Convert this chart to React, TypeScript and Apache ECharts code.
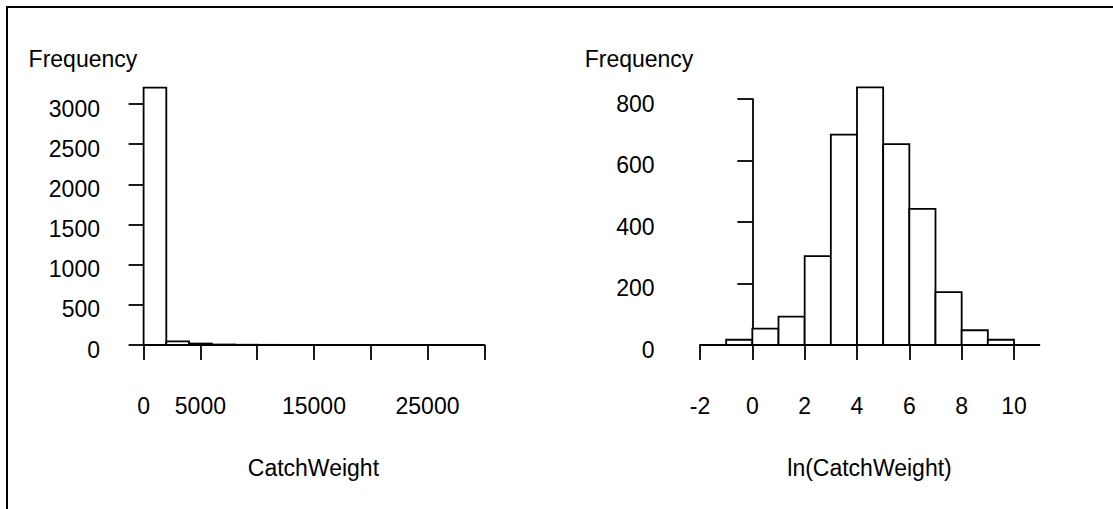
import React, { useEffect, useRef } from "react";
import * as echarts from "echarts";

// Left histogram: CatchWeight (bin breaks and counts)
const leftBreaks = [0, 2000, 4000, 6000, 8000, 10000, 12000, 14000, 16000, 18000, 20000, 22000, 24000, 26000, 28000, 30000];
const leftCounts = [3205, 45, 18, 6, 3, 2, 1, 1, 0, 1, 0, 0, 0, 0, 1];
const leftXTicks = [0, 5000, 10000, 15000, 20000, 25000, 30000];
const leftXLabels = [0, 5000, 15000, 25000];
const leftYTicks = [0, 500, 1000, 1500, 2000, 2500, 3000];

// Right histogram: ln(CatchWeight)
const rightBreaks = [-2, -1, 0, 1, 2, 3, 4, 5, 6, 7, 8, 9, 10, 11];
const rightCounts = [0, 17, 53, 92, 289, 684, 838, 653, 443, 172, 48, 17, 0];
const rightXTicks = [-2, 0, 2, 4, 6, 8, 10];
const rightYTicks = [0, 200, 400, 600, 800];

const yLabel = "Frequency";
const leftXName = "CatchWeight";
const rightXName = "ln(CatchWeight)";

const FONT = "'Liberation Sans', Arial, Helvetica, sans-serif";
const FS = 23;
const LW = 1.8;

function binData(breaks: number[], counts: number[]) {
  return counts.map((c, i) => [breaks[i], breaks[i + 1], c]);
}

const renderBar = (params: any, api: any) => {
  const x0 = api.value(0);
  const x1 = api.value(1);
  const y = api.value(2);
  const p0 = api.coord([x0, 0]);
  const p1 = api.coord([x1, y]);
  return {
    type: "rect",
    shape: { x: p0[0], y: p1[1], width: p1[0] - p0[0], height: p0[1] - p1[1] },
    style: { fill: "#fff", stroke: "#000", lineWidth: LW },
  };
};

const plain = (v: number) => String(v);
const axisLine = { show: true, lineStyle: { color: "#000", width: LW } };
const tickStyle = { show: true, length: 15, lineStyle: { color: "#000", width: LW } };
const labelStyle = { color: "#000", fontSize: FS, fontFamily: FONT, formatter: plain };

export default function App() {
  const ref = useRef<HTMLDivElement>(null);
  useEffect(() => {
    if (!ref.current) return;
    const chart = echarts.init(ref.current, undefined, { renderer: "svg" });
    const option: any = {
      animation: false,
      backgroundColor: "#fff",
      grid: [
        { left: 143.6, top: 104, width: 340.7, height: 241 },
        { left: 700, top: 99, width: 314, height: 246 },
      ],
      xAxis: [
        {
          type: "value",
          gridIndex: 0,
          min: 0,
          max: 30000,
          interval: 5000,
          offset: 11.5,
          axisLine,
          axisTick: { ...tickStyle, customValues: leftXTicks },
          axisLabel: { ...labelStyle, margin: 38, customValues: leftXLabels },
          splitLine: { show: false },
        },
        {
          type: "value",
          gridIndex: 1,
          min: -2,
          max: 10,
          interval: 2,
          offset: 11.5,
          axisLine,
          axisTick: { ...tickStyle, customValues: rightXTicks },
          axisLabel: { ...labelStyle, margin: 38, customValues: rightXTicks },
          splitLine: { show: false },
        },
      ],
      yAxis: [
        {
          type: "value",
          gridIndex: 0,
          min: 0,
          max: 3000,
          interval: 500,
          offset: 12.6,
          axisLine,
          axisTick: { ...tickStyle, customValues: leftYTicks },
          axisLabel: { ...labelStyle, margin: 31, verticalAlign: "top", lineHeight: 9, customValues: leftYTicks },
          splitLine: { show: false },
        },
        {
          type: "value",
          gridIndex: 1,
          min: 0,
          max: 800,
          interval: 200,
          offset: 15.8,
          axisLine,
          axisTick: { ...tickStyle, customValues: rightYTicks },
          axisLabel: { ...labelStyle, margin: 29.7, verticalAlign: "top", lineHeight: 9, customValues: rightYTicks },
          splitLine: { show: false },
        },
      ],
      series: [
        {
          type: "custom",
          xAxisIndex: 0,
          yAxisIndex: 0,
          clip: false,
          renderItem: renderBar,
          encode: { x: [0, 1], y: 2 },
          data: binData(leftBreaks, leftCounts),
        },
        {
          type: "custom",
          xAxisIndex: 1,
          yAxisIndex: 1,
          clip: false,
          renderItem: renderBar,
          encode: { x: [0, 1], y: 2 },
          data: binData(rightBreaks, rightCounts),
        },
      ],
      graphic: [
        {
          type: "polyline",
          shape: { points: [[7, 509], [7, 7], [1113, 7]] },
          style: { stroke: "#000", lineWidth: 2, fill: null },
        },
        {
          type: "text",
          x: 28.6,
          y: 59,
          style: { text: yLabel, fill: "#000", font: `${FS}px ${FONT}`, align: "left", verticalAlign: "middle" },
        },
        {
          type: "text",
          x: 584.7,
          y: 59,
          style: { text: yLabel, fill: "#000", font: `${FS}px ${FONT}`, align: "left", verticalAlign: "middle" },
        },
        {
          type: "text",
          x: 313.4,
          y: 468,
          style: { text: leftXName, fill: "#000", font: `${FS}px ${FONT}`, align: "center", verticalAlign: "middle" },
        },
        {
          type: "text",
          x: 869.5,
          y: 468,
          style: { text: rightXName, fill: "#000", font: `${FS}px ${FONT}`, align: "center", verticalAlign: "middle" },
        },
      ],
    };
    chart.setOption(option);
    return () => chart.dispose();
  }, []);
  return (
    <div
      ref={ref}
      style={{ position: "fixed", left: 0, top: 0, width: 1113, height: 509, background: "#fff" }}
    />
  );
}
